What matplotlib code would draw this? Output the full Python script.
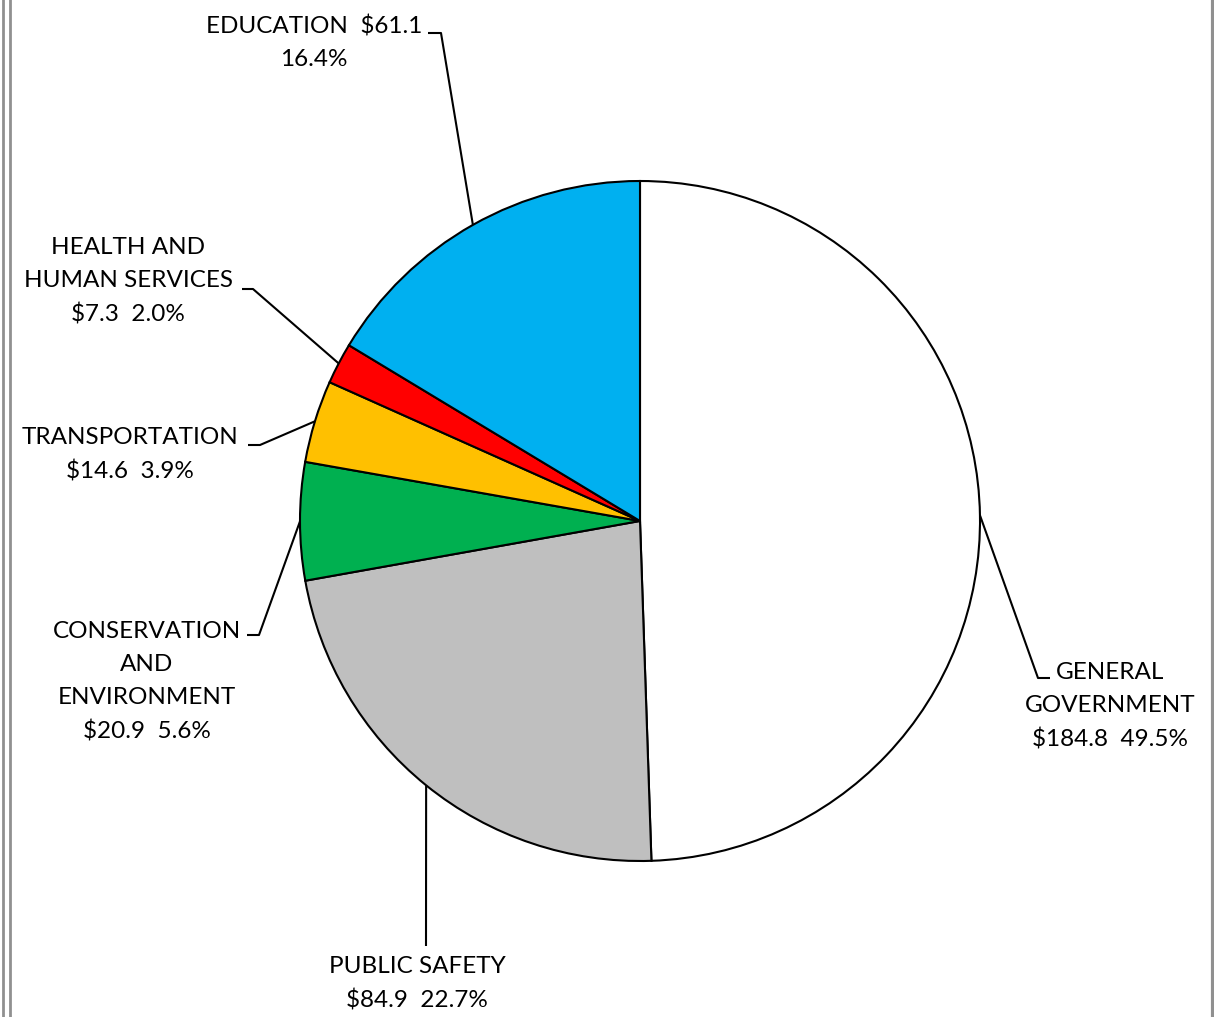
import numpy as np
import matplotlib
matplotlib.use("Agg")
import matplotlib.pyplot as plt

# Data (millions)
categories = ["GENERAL\nGOVERNMENT", "PUBLIC SAFETY", "CONSERVATION\nAND\nENVIRONMENT",
              "TRANSPORTATION", "HEALTH AND\nHUMAN SERVICES", "EDUCATION"]
amounts = [184.8, 84.9, 20.9, 14.6, 7.3, 61.1]
colors = ["#FFFFFF", "#BFBFBF", "#00B050", "#FFC000", "#FF0000", "#00B0F0"]

W, H = 1214, 1017
plt.rcParams['font.family'] = ['Lato', 'DejaVu Sans']

fig = plt.figure(figsize=(W / 100, H / 100), dpi=100)
ax = fig.add_axes([0, 0, 1, 1])

def Y(y):  # pixel row -> data y
    return H - y

cx, cy, r = 640, 521, 340
wedges, _ = ax.pie(amounts, colors=colors, startangle=90, counterclock=False,
                   center=(cx, Y(cy)), radius=r, frame=True,
                   wedgeprops=dict(edgecolor='black', linewidth=1.5))
ax.set_xlim(0, W)
ax.set_ylim(0, H)
ax.set_aspect('auto')
ax.axis('off')

total = sum(amounts)
pcts = [a / total * 100 for a in amounts]
labels = []
for c, a, p in zip(categories, amounts, pcts):
    if c == "EDUCATION":
        labels.append(f"{c}  ${a:.1f}\n{p:.1f}%")
    else:
        labels.append(f"{c}\n${a:.1f}  {p:.1f}%")

# label layout: elbow point, end of short horizontal, label centre (pixels)
layout = [
    ((1038, 678), (1050, 678), (1110, 706)),
    ((426, 946), None, (417, 984)),
    ((259, 635), (247, 635), (147, 682)),
    ((260, 445), (248, 445), (130, 455)),
    ((253, 289), (242, 289), (128, 281)),
    ((441, 33), (428, 33), (314, 43)),
]

for w, lab, (elbow, end, ctr) in zip(wedges, labels, layout):
    mid = np.deg2rad((w.theta1 + w.theta2) / 2)
    sx = cx + r * np.cos(mid)
    sy = Y(cy) + r * np.sin(mid)
    xs = [sx, elbow[0]]
    ys = [sy, Y(elbow[1])]
    if end is not None:
        xs.append(end[0])
        ys.append(Y(end[1]))
    ax.plot(xs, ys, color='black', linewidth=1.5, solid_capstyle='butt')
    ax.text(ctr[0], Y(ctr[1]), lab, ha='center', va='center', multialignment='center',
            fontsize=17.5, linespacing=1.7, color='black')

# frame lines at the edges
for x, lw in [(3, 2), (10, 2), (1213, 3)]:
    ax.plot([x, x], [0, H], color='#909090', linewidth=lw)

fig.savefig("out.png", dpi=100)
